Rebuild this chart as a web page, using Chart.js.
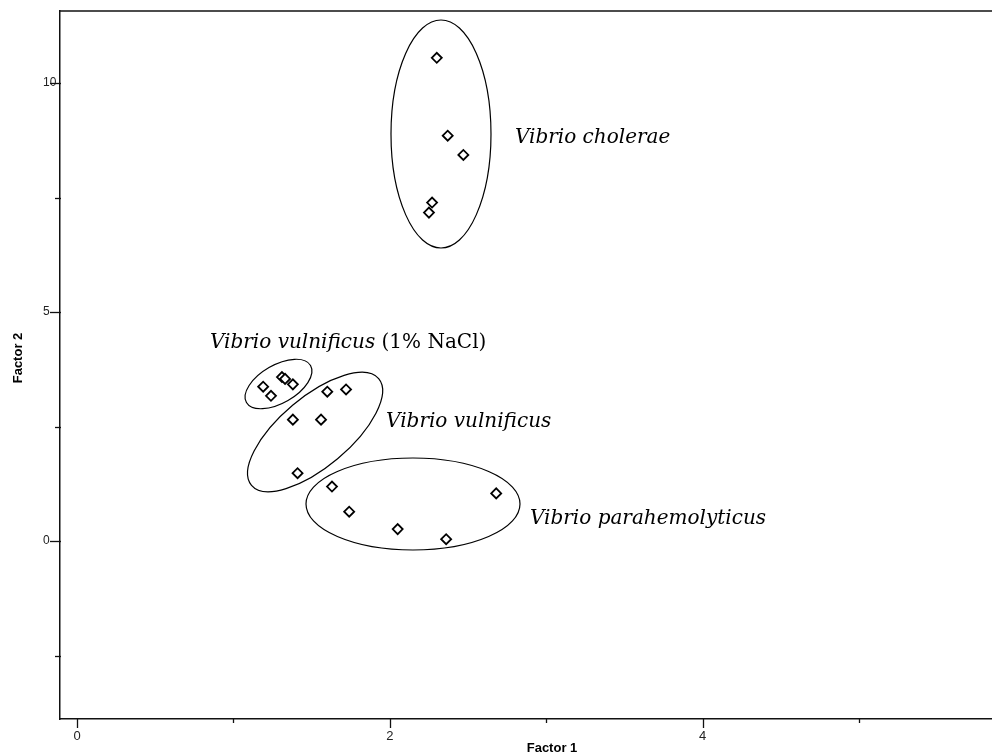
<!DOCTYPE html>
<html>
<head>
<meta charset="utf-8">
<script src="https://cdn.jsdelivr.net/npm/chart.js@4"></script>
<style>
  html, body { margin: 0; padding: 0; background: #fff; overflow: hidden; }
  #wrap { width: 992px; height: 753px; }
</style>
</head>
<body>
<div id="wrap"><canvas id="plot"></canvas></div>
<script>
// ── DATA ────────────────────────────────────────────
const groups = ['Vibrio cholerae', 'Vibrio vulnificus (1% NaCl)', 'Vibrio vulnificus', 'Vibrio parahemolyticus'];

const choleraeF1 = [2.30, 2.37, 2.47, 2.27, 2.25];
const choleraeF2 = [10.55, 8.85, 8.43, 7.39, 7.17];

const vulnNaclF1 = [1.19, 1.24, 1.31, 1.33, 1.38];
const vulnNaclF2 = [3.37, 3.17, 3.58, 3.54, 3.42];

const vulnF1 = [1.60, 1.72, 1.38, 1.56, 1.41];
const vulnF2 = [3.26, 3.31, 2.65, 2.65, 1.48];

const paraF1 = [1.63, 1.74, 2.05, 2.36, 2.68];
const paraF2 = [1.19, 0.64, 0.26, 0.04, 1.04];

const xTickStep = 1;
const yTickStep = 2.5;

// ── ANNOTATIONS (cluster ellipses, group names) ─────
// centre in data units, radii in px, angle in degrees
const ellipses = [
  { cx: 2.327, cy: 8.886, rx: 50, ry: 114, rot: 0 },
  { cx: 1.288, cy: 3.428, rx: 37, ry: 19, rot: -30 },
  { cx: 1.522, cy: 2.380, rx: 83, ry: 35, rot: -40 },
  { cx: 2.148, cy: 0.808, rx: 107, ry: 46, rot: 0 },
];
const labels = [
  { x: 2.800, y: 8.690, italic: 'Vibrio cholerae', plain: '' },
  { x: 0.850, y: 4.214, italic: 'Vibrio vulnificus', plain: ' (1% NaCl)' },
  { x: 1.976, y: 2.489, italic: 'Vibrio vulnificus', plain: '' },
  { x: 2.896, y: 0.371, italic: 'Vibrio parahemolyticus', plain: '' },
];

const zip = (xs, ys) => xs.map((x, i) => ({ x, y: ys[i] }));
const series = [
  zip(choleraeF1, choleraeF2),
  zip(vulnNaclF1, vulnNaclF2),
  zip(vulnF1, vulnF2),
  zip(paraF1, paraF2),
];

const serif = '"DejaVu Serif", "Liberation Serif", serif';
const sans = '"Liberation Sans", Arial, sans-serif';

// ── DECOR PLUGIN ────────────────────────────────────
const decor = {
  id: 'decor',
  beforeDatasetsDraw(chart) {
    const { ctx, chartArea: a, scales: { x, y } } = chart;
    ctx.save();

    // top frame line
    ctx.strokeStyle = '#111';
    ctx.lineWidth = 1.5;
    ctx.beginPath();
    ctx.moveTo(a.left, a.top);
    ctx.lineTo(chart.width, a.top);
    ctx.stroke();

    // tick marks: long where labelled, short otherwise
    ctx.lineWidth = 1.3;
    x.ticks.forEach(t => {
      const px = Math.round(x.getPixelForValue(t.value)) + 0.5;
      const len = t.value % 2 === 0 ? 9 : 4;
      ctx.beginPath();
      ctx.moveTo(px, a.bottom);
      ctx.lineTo(px, a.bottom + len);
      ctx.stroke();
    });
    y.ticks.forEach(t => {
      const py = Math.round(y.getPixelForValue(t.value)) + 0.5;
      const len = t.value % 5 === 0 ? 10 : 5;
      ctx.beginPath();
      ctx.moveTo(a.left - len, py);
      ctx.lineTo(a.left + 1, py);
      ctx.stroke();
    });

    // cluster ellipses
    ctx.lineWidth = 1.2;
    ctx.strokeStyle = '#000';
    ellipses.forEach(e => {
      ctx.beginPath();
      ctx.ellipse(x.getPixelForValue(e.cx), y.getPixelForValue(e.cy), e.rx, e.ry,
        e.rot * Math.PI / 180, 0, Math.PI * 2);
      ctx.stroke();
    });

    // group names
    ctx.fillStyle = '#000';
    ctx.textBaseline = 'alphabetic';
    ctx.textAlign = 'left';
    labels.forEach(l => {
      let px = x.getPixelForValue(l.x);
      const py = y.getPixelForValue(l.y);
      ctx.font = 'italic 20px ' + serif;
      ctx.fillText(l.italic, px, py);
      if (l.plain) {
        px += ctx.measureText(l.italic).width;
        ctx.font = '20px ' + serif;
        ctx.fillText(l.plain, px, py);
      }
    });

    // axis titles
    ctx.font = 'bold 13px ' + sans;
    ctx.textAlign = 'center';
    ctx.textBaseline = 'middle';
    ctx.fillText('Factor 1', 552, 748);
    ctx.translate(18, 358);
    ctx.rotate(-Math.PI / 2);
    ctx.fillText('Factor 2', 0, 0);

    ctx.restore();
  }
};

// ── CHART ───────────────────────────────────────────
new Chart(document.getElementById('plot'), {
  type: 'scatter',
  data: {
    datasets: series.map((pts, i) => ({
      label: groups[i],
      data: pts,
      pointStyle: 'rectRot',
      pointRadius: 5,
      pointBorderWidth: 1.8,
      pointBackgroundColor: '#fff',
      pointBorderColor: '#000',
    }))
  },
  options: {
    responsive: true,
    maintainAspectRatio: false,
    animation: false,
    layout: { autoPadding: false, padding: { left: 43, top: 11, right: 0, bottom: 0 } },
    plugins: { legend: { display: false }, tooltip: { enabled: false } },
    scales: {
      x: {
        type: 'linear',
        min: -0.109,
        max: 5.85,
        afterFit: s => { s.height = 34; },
        grid: { display: true, drawOnChartArea: false, drawTicks: true, tickLength: 6, tickColor: 'rgba(0,0,0,0)' },
        border: { display: true, color: '#111', width: 1.5 },
        ticks: {
          stepSize: xTickStep,
          includeBounds: false,
          autoSkip: false,
          maxRotation: 0,
          padding: 4,
          color: '#222',
          font: { family: sans, size: 13 },
          callback: v => (v % 2 === 0 ? String(v) : '')
        }
      },
      y: {
        type: 'linear',
        min: -3.886,
        max: 11.572,
        afterFit: s => { s.width = 17; },
        grid: { display: true, drawOnChartArea: false, drawTicks: true, tickLength: 6, tickColor: 'rgba(0,0,0,0)' },
        border: { display: true, color: '#111', width: 1.5 },
        ticks: {
          stepSize: yTickStep,
          includeBounds: false,
          autoSkip: false,
          crossAlign: 'far',
          padding: 2,
          color: '#222',
          font: { family: sans, size: 12 },
          callback: v => (v % 5 === 0 ? String(v) : '')
        }
      }
    }
  },
  plugins: [decor]
});
</script>
</body>
</html>
